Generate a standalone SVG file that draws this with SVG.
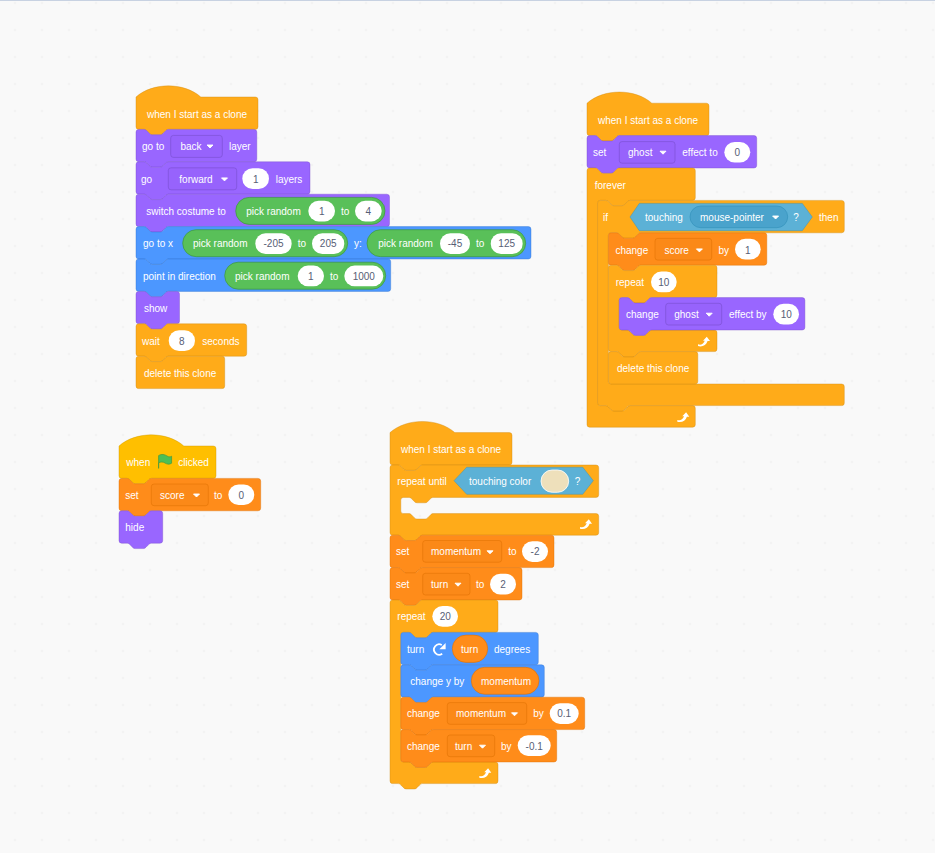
<svg xmlns="http://www.w3.org/2000/svg" xmlns:xlink="http://www.w3.org/1999/xlink" width="935" height="853" viewBox="0 0 935 853">
<style>
text{font-family:"Liberation Sans",Arial,sans-serif;font-size:10px}
.t{fill:#fff}
.n{fill:#575E75;text-anchor:middle}
.b{stroke-width:.8;stroke-linejoin:round;stroke-opacity:.5}
.ctl{fill:#FFAB19;stroke:#CF8B17}
.evt{fill:#FFBF00;stroke:#CC9900}
.lks{fill:#9966FF;stroke:#774DCB}
.mot{fill:#4C97FF;stroke:#3373CC}
.dat{fill:#FF8C1A;stroke:#DB6E00}
.rep{fill:#59C059;stroke:#389438;stroke-width:.8;stroke-opacity:.8}
.dr{fill:#FF8C1A;stroke:#DB6E00;stroke-width:.8;stroke-opacity:.7}
.sen{fill:#5CB1D6;stroke:#2E8EB8;stroke-width:.8;stroke-opacity:.5}
.men{fill:#4AA3CC;stroke:#2E8EB8;stroke-width:.8;stroke-opacity:.7}
.pill{fill:#fff}
.ddl{fill:#9763FC;stroke:#774DCB;stroke-width:.8;stroke-opacity:.7}
.ddd{fill:#FB8918;stroke:#DB6E00;stroke-width:.8;stroke-opacity:.6}
</style>
<defs>
<pattern id="grid" x="1.5" y="-10.5" width="27" height="27" patternUnits="userSpaceOnUse"><circle cx="13.5" cy="13.5" r=".8" fill="#e8e8e8"/></pattern>
<path id="ar" d="M-3 -1.4H3L0 1.6Z" fill="#fff" stroke="#fff" stroke-width=".9" stroke-linejoin="round"/>
<path id="loop" d="M-6 2.6C-3.5 3.4 -.8 3 .8 -1H-1L2.8-5L6-.6H3.6C2.4 3.6 -1.8 5.6 -6 4.4Z" fill="#fff"/>
</defs>
<rect width="935" height="853" fill="#F9F9F9"/>
<rect width="935" height="853" fill="url(#grid)"/>
<rect width="935" height="1" fill="#C8D2E2"/>

<g id="stack1">
<g id="s1-hat" transform="translate(136,97)"><path class="b ctl" d="M0 0c16.9-14.85 47.9-14.85 64.8 0H119.3a2.7 2.7 0 0 1 2.7 2.7V29.7a2.7 2.7 0 0 1-2.7 2.7H32.4c-1.35 0-2 .7-2.7 1.35l-2.7 2.7c-.7.7-1.35 1.35-2.7 1.35h-8.1c-1.35 0-2-.7-2.7-1.35l-2.7-2.7c-.7-.7-1.35-1.35-2.7-1.35H2.7a2.7 2.7 0 0 1-2.7-2.7z"/><text class="t" x="11" y="20.7">when I start as a clone</text></g>
<g id="s1-goto-layer" transform="translate(136,129.4)"><path class="b lks" d="M0 2.7A2.7 2.7 0 0 1 2.7 0H8.1c1.35 0 2 .7 2.7 1.35l2.7 2.7c.7.7 1.35 1.35 2.7 1.35h8.1c1.35 0 2-.7 2.7-1.35l2.7-2.7c.7-.7 1.35-1.35 2.7-1.35H118.1a2.7 2.7 0 0 1 2.7 2.7V29.7a2.7 2.7 0 0 1-2.7 2.7H32.4c-1.35 0-2 .7-2.7 1.35l-2.7 2.7c-.7.7-1.35 1.35-2.7 1.35h-8.1c-1.35 0-2-.7-2.7-1.35l-2.7-2.7c-.7-.7-1.35-1.35-2.7-1.35H2.7a2.7 2.7 0 0 1-2.7-2.7z"/><text class="t" x="6" y="20.2">go to</text><rect class="ddl" x="34.7" y="6" width="51.6" height="22" rx="2.7"/><text class="t" x="44.5" y="20.2">back</text><use xlink:href="#ar" href="#ar" x="74" y="17"/><text class="t" x="93" y="20.2">layer</text></g>
<g id="s1-go-layers" transform="translate(136,161.8)"><path class="b lks" d="M0 2.7A2.7 2.7 0 0 1 2.7 0H8.1c1.35 0 2 .7 2.7 1.35l2.7 2.7c.7.7 1.35 1.35 2.7 1.35h8.1c1.35 0 2-.7 2.7-1.35l2.7-2.7c.7-.7 1.35-1.35 2.7-1.35H171.3a2.7 2.7 0 0 1 2.7 2.7V29.7a2.7 2.7 0 0 1-2.7 2.7H32.4c-1.35 0-2 .7-2.7 1.35l-2.7 2.7c-.7.7-1.35 1.35-2.7 1.35h-8.1c-1.35 0-2-.7-2.7-1.35l-2.7-2.7c-.7-.7-1.35-1.35-2.7-1.35H2.7a2.7 2.7 0 0 1-2.7-2.7z"/><text class="t" x="5" y="21">go</text><rect class="ddl" x="32.3" y="6" width="68.4" height="22" rx="2.7"/><text class="t" x="43.3" y="21">forward</text><use xlink:href="#ar" href="#ar" x="88.5" y="17.5"/><rect class="pill" x="106.3" y="6.5" width="26.7" height="20.7" rx="10.35"/><text class="n" x="119.7" y="21">1</text><text class="t" x="139.7" y="21">layers</text></g>
<g id="s1-switch" transform="translate(136,194.2)"><path class="b lks" d="M0 2.7A2.7 2.7 0 0 1 2.7 0H8.1c1.35 0 2 .7 2.7 1.35l2.7 2.7c.7.7 1.35 1.35 2.7 1.35h8.1c1.35 0 2-.7 2.7-1.35l2.7-2.7c.7-.7 1.35-1.35 2.7-1.35H250.8a2.7 2.7 0 0 1 2.7 2.7V29.7a2.7 2.7 0 0 1-2.7 2.7H32.4c-1.35 0-2 .7-2.7 1.35l-2.7 2.7c-.7.7-1.35 1.35-2.7 1.35h-8.1c-1.35 0-2-.7-2.7-1.35l-2.7-2.7c-.7-.7-1.35-1.35-2.7-1.35H2.7a2.7 2.7 0 0 1-2.7-2.7z"/><text class="t" x="10.3" y="21">switch costume to</text><rect class="rep" x="99.7" y="3.2" width="149.3" height="27" rx="13.5"/><text class="t" x="110.3" y="21">pick random</text><rect class="pill" x="172.3" y="6.5" width="26.7" height="20.7" rx="10.35"/><text class="n" x="185.7" y="21">1</text><text class="t" x="205" y="21">to</text><rect class="pill" x="219" y="6.5" width="26.7" height="20.7" rx="10.35"/><text class="n" x="232.3" y="21">4</text></g>
<g id="s1-gotoxy" transform="translate(136,226.6)"><path class="b mot" d="M0 2.7A2.7 2.7 0 0 1 2.7 0H8.1c1.35 0 2 .7 2.7 1.35l2.7 2.7c.7.7 1.35 1.35 2.7 1.35h8.1c1.35 0 2-.7 2.7-1.35l2.7-2.7c.7-.7 1.35-1.35 2.7-1.35H392.3a2.7 2.7 0 0 1 2.7 2.7V29.7a2.7 2.7 0 0 1-2.7 2.7H32.4c-1.35 0-2 .7-2.7 1.35l-2.7 2.7c-.7.7-1.35 1.35-2.7 1.35h-8.1c-1.35 0-2-.7-2.7-1.35l-2.7-2.7c-.7-.7-1.35-1.35-2.7-1.35H2.7a2.7 2.7 0 0 1-2.7-2.7z"/><text class="t" x="7" y="20.2">go to x</text><rect class="rep" x="46.7" y="3.1" width="165" height="27" rx="13.5"/><text class="t" x="57" y="20.2">pick random</text><rect class="pill" x="119.3" y="6.7" width="36.4" height="20.7" rx="10.35"/><text class="n" x="137.5" y="20.2">-205</text><text class="t" x="161.7" y="20.2">to</text><rect class="pill" x="176" y="6.7" width="32.3" height="20.7" rx="10.35"/><text class="n" x="192.2" y="20.2">205</text><text class="t" x="218" y="20.2">y:</text><rect class="rep" x="231" y="3.1" width="158.7" height="27" rx="13.5"/><text class="t" x="242.3" y="20.2">pick random</text><rect class="pill" x="304" y="6.7" width="30" height="20.7" rx="10.35"/><text class="n" x="319" y="20.2">-45</text><text class="t" x="340" y="20.2">to</text><rect class="pill" x="354.7" y="6.7" width="32" height="20.7" rx="10.35"/><text class="n" x="370.7" y="20.2">125</text></g>
<g id="s1-point" transform="translate(136,259)"><path class="b mot" d="M0 2.7A2.7 2.7 0 0 1 2.7 0H8.1c1.35 0 2 .7 2.7 1.35l2.7 2.7c.7.7 1.35 1.35 2.7 1.35h8.1c1.35 0 2-.7 2.7-1.35l2.7-2.7c.7-.7 1.35-1.35 2.7-1.35H252a2.7 2.7 0 0 1 2.7 2.7V29.7a2.7 2.7 0 0 1-2.7 2.7H32.4c-1.35 0-2 .7-2.7 1.35l-2.7 2.7c-.7.7-1.35 1.35-2.7 1.35h-8.1c-1.35 0-2-.7-2.7-1.35l-2.7-2.7c-.7-.7-1.35-1.35-2.7-1.35H2.7a2.7 2.7 0 0 1-2.7-2.7z"/><text class="t" x="7" y="21">point in direction</text><rect class="rep" x="88.7" y="3.2" width="161" height="27" rx="13.5"/><text class="t" x="99" y="21">pick random</text><rect class="pill" x="161.7" y="6.6" width="26.3" height="20.7" rx="10.35"/><text class="n" x="174.8" y="21">1</text><text class="t" x="194" y="21">to</text><rect class="pill" x="208.3" y="6.6" width="39" height="20.7" rx="10.35"/><text class="n" x="227.8" y="21">1000</text></g>
<g id="s1-show" transform="translate(136,291.4)"><path class="b lks" d="M0 2.7A2.7 2.7 0 0 1 2.7 0H8.1c1.35 0 2 .7 2.7 1.35l2.7 2.7c.7.7 1.35 1.35 2.7 1.35h8.1c1.35 0 2-.7 2.7-1.35l2.7-2.7c.7-.7 1.35-1.35 2.7-1.35H40.8a2.7 2.7 0 0 1 2.7 2.7V29.7a2.7 2.7 0 0 1-2.7 2.7H32.4c-1.35 0-2 .7-2.7 1.35l-2.7 2.7c-.7.7-1.35 1.35-2.7 1.35h-8.1c-1.35 0-2-.7-2.7-1.35l-2.7-2.7c-.7-.7-1.35-1.35-2.7-1.35H2.7a2.7 2.7 0 0 1-2.7-2.7z"/><text class="t" x="8" y="20.2">show</text></g>
<g id="s1-wait" transform="translate(136,323.8)"><path class="b ctl" d="M0 2.7A2.7 2.7 0 0 1 2.7 0H8.1c1.35 0 2 .7 2.7 1.35l2.7 2.7c.7.7 1.35 1.35 2.7 1.35h8.1c1.35 0 2-.7 2.7-1.35l2.7-2.7c.7-.7 1.35-1.35 2.7-1.35H108a2.7 2.7 0 0 1 2.7 2.7V29.7a2.7 2.7 0 0 1-2.7 2.7H32.4c-1.35 0-2 .7-2.7 1.35l-2.7 2.7c-.7.7-1.35 1.35-2.7 1.35h-8.1c-1.35 0-2-.7-2.7-1.35l-2.7-2.7c-.7-.7-1.35-1.35-2.7-1.35H2.7a2.7 2.7 0 0 1-2.7-2.7z"/><text class="t" x="6" y="21">wait</text><rect class="pill" x="32.7" y="6.5" width="26.3" height="20.7" rx="10.35"/><text class="n" x="45.8" y="21">8</text><text class="t" x="66.3" y="21">seconds</text></g>
<g id="s1-delete" transform="translate(136,356.2)"><path class="b ctl" d="M0 2.7A2.7 2.7 0 0 1 2.7 0H8.1c1.35 0 2 .7 2.7 1.35l2.7 2.7c.7.7 1.35 1.35 2.7 1.35h8.1c1.35 0 2-.7 2.7-1.35l2.7-2.7c.7-.7 1.35-1.35 2.7-1.35H86a2.7 2.7 0 0 1 2.7 2.7V29.7a2.7 2.7 0 0 1-2.7 2.7H2.7a2.7 2.7 0 0 1-2.7-2.7z"/><text class="t" x="8" y="21">delete this clone</text></g>
</g>

<g id="stack2">
<g id="s2-hat" transform="translate(587,103.2)"><path class="b ctl" d="M0 0c16.9-14.85 47.9-14.85 64.8 0H119.3a2.7 2.7 0 0 1 2.7 2.7V29.7a2.7 2.7 0 0 1-2.7 2.7H32.4c-1.35 0-2 .7-2.7 1.35l-2.7 2.7c-.7.7-1.35 1.35-2.7 1.35h-8.1c-1.35 0-2-.7-2.7-1.35l-2.7-2.7c-.7-.7-1.35-1.35-2.7-1.35H2.7a2.7 2.7 0 0 1-2.7-2.7z"/><text class="t" x="11" y="20.7">when I start as a clone</text></g>
<g id="s2-set-ghost" transform="translate(587,135.6)"><path class="b lks" d="M0 2.7A2.7 2.7 0 0 1 2.7 0H8.1c1.35 0 2 .7 2.7 1.35l2.7 2.7c.7.7 1.35 1.35 2.7 1.35h8.1c1.35 0 2-.7 2.7-1.35l2.7-2.7c.7-.7 1.35-1.35 2.7-1.35H167a2.7 2.7 0 0 1 2.7 2.7V29.7a2.7 2.7 0 0 1-2.7 2.7H32.4c-1.35 0-2 .7-2.7 1.35l-2.7 2.7c-.7.7-1.35 1.35-2.7 1.35h-8.1c-1.35 0-2-.7-2.7-1.35l-2.7-2.7c-.7-.7-1.35-1.35-2.7-1.35H2.7a2.7 2.7 0 0 1-2.7-2.7z"/><text class="t" x="6" y="20.2">set</text><rect class="ddl" x="32.3" y="6" width="55.7" height="21.6" rx="2.7"/><text class="t" x="41" y="20.2">ghost</text><use xlink:href="#ar" href="#ar" x="76" y="17"/><text class="t" x="95.3" y="20.2">effect to</text><rect class="pill" x="137.3" y="6.3" width="26" height="20.7" rx="10.35"/><text class="n" x="150.3" y="20.2">0</text></g>
<g id="s2-forever" transform="translate(587,168)"><path class="b ctl" d="M0 2.7A2.7 2.7 0 0 1 2.7 0H8.1c1.35 0 2 .7 2.7 1.35l2.7 2.7c.7.7 1.35 1.35 2.7 1.35h8.1c1.35 0 2-.7 2.7-1.35l2.7-2.7c.7-.7 1.35-1.35 2.7-1.35H105.6a2.7 2.7 0 0 1 2.7 2.7V29.7a2.7 2.7 0 0 1-2.7 2.7H43.2c-1.35 0-2 .7-2.7 1.35l-2.7 2.7c-.7.7-1.35 1.35-2.7 1.35h-8.1c-1.35 0-2-.7-2.7-1.35l-2.7-2.7c-.7-.7-1.35-1.35-2.7-1.35H13.5a2.7 2.7 0 0 0-2.7 2.7V234.9a2.7 2.7 0 0 0 2.7 2.7H18.9c1.35 0 2 .7 2.7 1.35l2.7 2.7c.7.7 1.35 1.35 2.7 1.35h8.1c1.35 0 2-.7 2.7-1.35l2.7-2.7c.7-.7 1.35-1.35 2.7-1.35H105.6a2.7 2.7 0 0 1 2.7 2.7V256.5a2.7 2.7 0 0 1-2.7 2.7H2.7a2.7 2.7 0 0 1-2.7-2.7z"/><text class="t" x="7.7" y="21">forever</text><use xlink:href="#loop" href="#loop" x="96.3" y="249.3"/></g>
<g id="s2-if" transform="translate(597.6,200.4)"><path class="b ctl" d="M0 2.7A2.7 2.7 0 0 1 2.7 0H8.1c1.35 0 2 .7 2.7 1.35l2.7 2.7c.7.7 1.35 1.35 2.7 1.35h8.1c1.35 0 2-.7 2.7-1.35l2.7-2.7c.7-.7 1.35-1.35 2.7-1.35H244a2.7 2.7 0 0 1 2.7 2.7V29.7a2.7 2.7 0 0 1-2.7 2.7H43.2c-1.35 0-2 .7-2.7 1.35l-2.7 2.7c-.7.7-1.35 1.35-2.7 1.35h-8.1c-1.35 0-2-.7-2.7-1.35l-2.7-2.7c-.7-.7-1.35-1.35-2.7-1.35H13.5a2.7 2.7 0 0 0-2.7 2.7V180.9a2.7 2.7 0 0 0 2.7 2.7H244a2.7 2.7 0 0 1 2.7 2.7V202.5a2.7 2.7 0 0 1-2.7 2.7H32.4c-1.35 0-2 .7-2.7 1.35l-2.7 2.7c-.7.7-1.35 1.35-2.7 1.35h-8.1c-1.35 0-2-.7-2.7-1.35l-2.7-2.7c-.7-.7-1.35-1.35-2.7-1.35H2.7a2.7 2.7 0 0 1-2.7-2.7z"/><text class="t" x="5.4" y="20.2">if</text><path class="sen" d="M32.4 16.6L41.7 3H204.7L214.7 16.6L204.7 30.3H41.7Z"/><text class="t" x="47.4" y="20.2">touching</text><rect class="men" x="92.4" y="5.6" width="97.7" height="21.7" rx="10.85"/><text class="t" x="102.4" y="20.2">mouse-pointer</text><use xlink:href="#ar" href="#ar" x="178" y="17"/><text class="t" x="195.7" y="20.2">?</text><text class="t" x="221.4" y="20.2">then</text></g>
<g id="s2-change-score" transform="translate(608.4,232.8)"><path class="b dat" d="M0 2.7A2.7 2.7 0 0 1 2.7 0H8.1c1.35 0 2 .7 2.7 1.35l2.7 2.7c.7.7 1.35 1.35 2.7 1.35h8.1c1.35 0 2-.7 2.7-1.35l2.7-2.7c.7-.7 1.35-1.35 2.7-1.35H155.7a2.7 2.7 0 0 1 2.7 2.7V29.7a2.7 2.7 0 0 1-2.7 2.7H32.4c-1.35 0-2 .7-2.7 1.35l-2.7 2.7c-.7.7-1.35 1.35-2.7 1.35h-8.1c-1.35 0-2-.7-2.7-1.35l-2.7-2.7c-.7-.7-1.35-1.35-2.7-1.35H2.7a2.7 2.7 0 0 1-2.7-2.7z"/><text class="t" x="7" y="21">change</text><rect class="ddd" x="46.6" y="5.6" width="56.7" height="21.7" rx="2.7"/><text class="t" x="56" y="21">score</text><use xlink:href="#ar" href="#ar" x="91" y="17.5"/><text class="t" x="110" y="21">by</text><rect class="pill" x="126.6" y="6" width="25.7" height="20.7" rx="10.35"/><text class="n" x="139.4" y="21">1</text></g>
<g id="s2-repeat" transform="translate(608.4,265.2)"><path class="b ctl" d="M0 2.7A2.7 2.7 0 0 1 2.7 0H8.1c1.35 0 2 .7 2.7 1.35l2.7 2.7c.7.7 1.35 1.35 2.7 1.35h8.1c1.35 0 2-.7 2.7-1.35l2.7-2.7c.7-.7 1.35-1.35 2.7-1.35H105.9a2.7 2.7 0 0 1 2.7 2.7V29.7a2.7 2.7 0 0 1-2.7 2.7H43.2c-1.35 0-2 .7-2.7 1.35l-2.7 2.7c-.7.7-1.35 1.35-2.7 1.35h-8.1c-1.35 0-2-.7-2.7-1.35l-2.7-2.7c-.7-.7-1.35-1.35-2.7-1.35H13.5a2.7 2.7 0 0 0-2.7 2.7V62.1a2.7 2.7 0 0 0 2.7 2.7H18.9c1.35 0 2 .7 2.7 1.35l2.7 2.7c.7.7 1.35 1.35 2.7 1.35h8.1c1.35 0 2-.7 2.7-1.35l2.7-2.7c.7-.7 1.35-1.35 2.7-1.35H105.9a2.7 2.7 0 0 1 2.7 2.7V83.7a2.7 2.7 0 0 1-2.7 2.7H32.4c-1.35 0-2 .7-2.7 1.35l-2.7 2.7c-.7.7-1.35 1.35-2.7 1.35h-8.1c-1.35 0-2-.7-2.7-1.35l-2.7-2.7c-.7-.7-1.35-1.35-2.7-1.35H2.7a2.7 2.7 0 0 1-2.7-2.7z"/><text class="t" x="7.3" y="21">repeat</text><rect class="pill" x="42.6" y="6.4" width="25.7" height="20.7" rx="10.35"/><text class="n" x="55.4" y="21">10</text><use xlink:href="#loop" href="#loop" x="95.6" y="76.5"/></g>
<g id="s2-change-ghost" transform="translate(619.2,297.6)"><path class="b lks" d="M0 2.7A2.7 2.7 0 0 1 2.7 0H8.1c1.35 0 2 .7 2.7 1.35l2.7 2.7c.7.7 1.35 1.35 2.7 1.35h8.1c1.35 0 2-.7 2.7-1.35l2.7-2.7c.7-.7 1.35-1.35 2.7-1.35H183a2.7 2.7 0 0 1 2.7 2.7V29.7a2.7 2.7 0 0 1-2.7 2.7H32.4c-1.35 0-2 .7-2.7 1.35l-2.7 2.7c-.7.7-1.35 1.35-2.7 1.35h-8.1c-1.35 0-2-.7-2.7-1.35l-2.7-2.7c-.7-.7-1.35-1.35-2.7-1.35H2.7a2.7 2.7 0 0 1-2.7-2.7z"/><text class="t" x="6.8" y="20.2">change</text><rect class="ddl" x="46.5" y="5.7" width="56" height="21.7" rx="2.7"/><text class="t" x="55" y="20.2">ghost</text><use xlink:href="#ar" href="#ar" x="90" y="17"/><text class="t" x="109.8" y="20.2">effect by</text><rect class="pill" x="154.1" y="6.2" width="25.7" height="20.7" rx="10.35"/><text class="n" x="167" y="20.2">10</text></g>
<g id="s2-delete" transform="translate(608.4,351.6)"><path class="b ctl" d="M0 2.7A2.7 2.7 0 0 1 2.7 0H8.1c1.35 0 2 .7 2.7 1.35l2.7 2.7c.7.7 1.35 1.35 2.7 1.35h8.1c1.35 0 2-.7 2.7-1.35l2.7-2.7c.7-.7 1.35-1.35 2.7-1.35H86.7a2.7 2.7 0 0 1 2.7 2.7V29.7a2.7 2.7 0 0 1-2.7 2.7H2.7a2.7 2.7 0 0 1-2.7-2.7z"/><text class="t" x="8.6" y="20.2">delete this clone</text></g>
</g>

<g id="stack3">
<g id="s3-flag-hat" transform="translate(119,446)"><path class="b evt" d="M0 0c16.9-14.85 47.9-14.85 64.8 0H94.3a2.7 2.7 0 0 1 2.7 2.7V29.7a2.7 2.7 0 0 1-2.7 2.7H32.4c-1.35 0-2 .7-2.7 1.35l-2.7 2.7c-.7.7-1.35 1.35-2.7 1.35h-8.1c-1.35 0-2-.7-2.7-1.35l-2.7-2.7c-.7-.7-1.35-1.35-2.7-1.35H2.7a2.7 2.7 0 0 1-2.7-2.7z"/><text class="t" x="7.3" y="20.2">when</text><path d="M39.6 22.4V9.6C42.5 7.6 46 8.6 48 10C50 11.2 51.6 11 52.6 10.2V17.2C50.6 18.6 48 18.4 46 17C44.2 15.8 41.8 15.6 39.6 16.8Z" fill="#4CBF56" stroke="#45993D" stroke-width=".7" stroke-linejoin="round"/><text class="t" x="59.3" y="20.2">clicked</text></g>
<g id="s3-set-score" transform="translate(119,478.4)"><path class="b dat" d="M0 2.7A2.7 2.7 0 0 1 2.7 0H8.1c1.35 0 2 .7 2.7 1.35l2.7 2.7c.7.7 1.35 1.35 2.7 1.35h8.1c1.35 0 2-.7 2.7-1.35l2.7-2.7c.7-.7 1.35-1.35 2.7-1.35H139a2.7 2.7 0 0 1 2.7 2.7V29.7a2.7 2.7 0 0 1-2.7 2.7H32.4c-1.35 0-2 .7-2.7 1.35l-2.7 2.7c-.7.7-1.35 1.35-2.7 1.35h-8.1c-1.35 0-2-.7-2.7-1.35l-2.7-2.7c-.7-.7-1.35-1.35-2.7-1.35H2.7a2.7 2.7 0 0 1-2.7-2.7z"/><text class="t" x="6.3" y="20.2">set</text><rect class="ddd" x="32.3" y="5.6" width="57" height="21.7" rx="2.7"/><text class="t" x="41" y="20.2">score</text><use xlink:href="#ar" href="#ar" x="77.5" y="17"/><text class="t" x="95" y="20.2">to</text><rect class="pill" x="109.3" y="6" width="26" height="20.7" rx="10.35"/><text class="n" x="122.3" y="20.2">0</text></g>
<g id="s3-hide" transform="translate(119,510.8)"><path class="b lks" d="M0 2.7A2.7 2.7 0 0 1 2.7 0H8.1c1.35 0 2 .7 2.7 1.35l2.7 2.7c.7.7 1.35 1.35 2.7 1.35h8.1c1.35 0 2-.7 2.7-1.35l2.7-2.7c.7-.7 1.35-1.35 2.7-1.35H41a2.7 2.7 0 0 1 2.7 2.7V29.7a2.7 2.7 0 0 1-2.7 2.7H32.4c-1.35 0-2 .7-2.7 1.35l-2.7 2.7c-.7.7-1.35 1.35-2.7 1.35h-8.1c-1.35 0-2-.7-2.7-1.35l-2.7-2.7c-.7-.7-1.35-1.35-2.7-1.35H2.7a2.7 2.7 0 0 1-2.7-2.7z"/><text class="t" x="6.3" y="20.2">hide</text></g>
</g>

<g id="stack4">
<g id="s4-hat" transform="translate(390,432.6)"><path class="b ctl" d="M0 0c16.9-14.85 47.9-14.85 64.8 0H119.3a2.7 2.7 0 0 1 2.7 2.7V29.7a2.7 2.7 0 0 1-2.7 2.7H32.4c-1.35 0-2 .7-2.7 1.35l-2.7 2.7c-.7.7-1.35 1.35-2.7 1.35h-8.1c-1.35 0-2-.7-2.7-1.35l-2.7-2.7c-.7-.7-1.35-1.35-2.7-1.35H2.7a2.7 2.7 0 0 1-2.7-2.7z"/><text class="t" x="11" y="20.2">when I start as a clone</text></g>
<g id="s4-repeat-until" transform="translate(390,465)"><path class="b ctl" d="M0 2.7A2.7 2.7 0 0 1 2.7 0H8.1c1.35 0 2 .7 2.7 1.35l2.7 2.7c.7.7 1.35 1.35 2.7 1.35h8.1c1.35 0 2-.7 2.7-1.35l2.7-2.7c.7-.7 1.35-1.35 2.7-1.35H206a2.7 2.7 0 0 1 2.7 2.7V29.7a2.7 2.7 0 0 1-2.7 2.7H43.2c-1.35 0-2 .7-2.7 1.35l-2.7 2.7c-.7.7-1.35 1.35-2.7 1.35h-8.1c-1.35 0-2-.7-2.7-1.35l-2.7-2.7c-.7-.7-1.35-1.35-2.7-1.35H13.5a2.7 2.7 0 0 0-2.7 2.7V45.9a2.7 2.7 0 0 0 2.7 2.7H18.9c1.35 0 2 .7 2.7 1.35l2.7 2.7c.7.7 1.35 1.35 2.7 1.35h8.1c1.35 0 2-.7 2.7-1.35l2.7-2.7c.7-.7 1.35-1.35 2.7-1.35H206a2.7 2.7 0 0 1 2.7 2.7V67.5a2.7 2.7 0 0 1-2.7 2.7H32.4c-1.35 0-2 .7-2.7 1.35l-2.7 2.7c-.7.7-1.35 1.35-2.7 1.35h-8.1c-1.35 0-2-.7-2.7-1.35l-2.7-2.7c-.7-.7-1.35-1.35-2.7-1.35H2.7a2.7 2.7 0 0 1-2.7-2.7z"/><text class="t" x="7.3" y="20.2">repeat until</text><path class="sen" d="M64 15.7L76.7 2.2H192.7L203.3 15.7L192.7 29.3H76.7Z"/><text class="t" x="79" y="20.2">touching color</text><rect x="151" y="5" width="27.7" height="22.3" rx="11.15" fill="#EEE0BB" stroke="#fff" stroke-width=".8"/><text class="t" x="184.7" y="20.2">?</text><use xlink:href="#loop" href="#loop" x="196" y="59.3"/></g>
<g id="s4-set-momentum" transform="translate(390,535.2)"><path class="b dat" d="M0 2.7A2.7 2.7 0 0 1 2.7 0H8.1c1.35 0 2 .7 2.7 1.35l2.7 2.7c.7.7 1.35 1.35 2.7 1.35h8.1c1.35 0 2-.7 2.7-1.35l2.7-2.7c.7-.7 1.35-1.35 2.7-1.35H161.3a2.7 2.7 0 0 1 2.7 2.7V29.7a2.7 2.7 0 0 1-2.7 2.7H32.4c-1.35 0-2 .7-2.7 1.35l-2.7 2.7c-.7.7-1.35 1.35-2.7 1.35h-8.1c-1.35 0-2-.7-2.7-1.35l-2.7-2.7c-.7-.7-1.35-1.35-2.7-1.35H2.7a2.7 2.7 0 0 1-2.7-2.7z"/><text class="t" x="6" y="20.2">set</text><rect class="ddd" x="32.7" y="5.3" width="79" height="21.7" rx="2.7"/><text class="t" x="41" y="20.2">momentum</text><use xlink:href="#ar" href="#ar" x="100" y="17"/><text class="t" x="118.3" y="20.2">to</text><rect class="pill" x="132" y="6" width="26" height="20.7" rx="10.35"/><text class="n" x="145" y="20.2">-2</text></g>
<g id="s4-set-turn" transform="translate(390,567.6)"><path class="b dat" d="M0 2.7A2.7 2.7 0 0 1 2.7 0H8.1c1.35 0 2 .7 2.7 1.35l2.7 2.7c.7.7 1.35 1.35 2.7 1.35h8.1c1.35 0 2-.7 2.7-1.35l2.7-2.7c.7-.7 1.35-1.35 2.7-1.35H129.3a2.7 2.7 0 0 1 2.7 2.7V29.7a2.7 2.7 0 0 1-2.7 2.7H32.4c-1.35 0-2 .7-2.7 1.35l-2.7 2.7c-.7.7-1.35 1.35-2.7 1.35h-8.1c-1.35 0-2-.7-2.7-1.35l-2.7-2.7c-.7-.7-1.35-1.35-2.7-1.35H2.7a2.7 2.7 0 0 1-2.7-2.7z"/><text class="t" x="6" y="20.2">set</text><rect class="ddd" x="32.7" y="5.7" width="47.3" height="21.7" rx="2.7"/><text class="t" x="41" y="20.2">turn</text><use xlink:href="#ar" href="#ar" x="68" y="17"/><text class="t" x="86" y="20.2">to</text><rect class="pill" x="100" y="6.2" width="26" height="20.7" rx="10.35"/><text class="n" x="113" y="20.2">2</text></g>
<g id="s4-repeat" transform="translate(390,600)"><path class="b ctl" d="M0 2.7A2.7 2.7 0 0 1 2.7 0H8.1c1.35 0 2 .7 2.7 1.35l2.7 2.7c.7.7 1.35 1.35 2.7 1.35h8.1c1.35 0 2-.7 2.7-1.35l2.7-2.7c.7-.7 1.35-1.35 2.7-1.35H105.3a2.7 2.7 0 0 1 2.7 2.7V29.7a2.7 2.7 0 0 1-2.7 2.7H43.2c-1.35 0-2 .7-2.7 1.35l-2.7 2.7c-.7.7-1.35 1.35-2.7 1.35h-8.1c-1.35 0-2-.7-2.7-1.35l-2.7-2.7c-.7-.7-1.35-1.35-2.7-1.35H13.5a2.7 2.7 0 0 0-2.7 2.7V159.3a2.7 2.7 0 0 0 2.7 2.7H18.9c1.35 0 2 .7 2.7 1.35l2.7 2.7c.7.7 1.35 1.35 2.7 1.35h8.1c1.35 0 2-.7 2.7-1.35l2.7-2.7c.7-.7 1.35-1.35 2.7-1.35H105.3a2.7 2.7 0 0 1 2.7 2.7V180.9a2.7 2.7 0 0 1-2.7 2.7H32.4c-1.35 0-2 .7-2.7 1.35l-2.7 2.7c-.7.7-1.35 1.35-2.7 1.35h-8.1c-1.35 0-2-.7-2.7-1.35l-2.7-2.7c-.7-.7-1.35-1.35-2.7-1.35H2.7a2.7 2.7 0 0 1-2.7-2.7z"/><text class="t" x="7.3" y="20.2">repeat</text><rect class="pill" x="42.3" y="6" width="25.7" height="20.7" rx="10.35"/><text class="n" x="55.2" y="20.2">20</text><use xlink:href="#loop" href="#loop" x="95.3" y="173.3"/></g>
<g id="s4-turn" transform="translate(400.8,632.4)"><path class="b mot" d="M0 2.7A2.7 2.7 0 0 1 2.7 0H8.1c1.35 0 2 .7 2.7 1.35l2.7 2.7c.7.7 1.35 1.35 2.7 1.35h8.1c1.35 0 2-.7 2.7-1.35l2.7-2.7c.7-.7 1.35-1.35 2.7-1.35H134.8a2.7 2.7 0 0 1 2.7 2.7V29.7a2.7 2.7 0 0 1-2.7 2.7H32.4c-1.35 0-2 .7-2.7 1.35l-2.7 2.7c-.7.7-1.35 1.35-2.7 1.35h-8.1c-1.35 0-2-.7-2.7-1.35l-2.7-2.7c-.7-.7-1.35-1.35-2.7-1.35H2.7a2.7 2.7 0 0 1-2.7-2.7z"/><text class="t" x="6.2" y="20.2">turn</text><path d="M41.4 21.4A5.2 5.2 0 1 1 41 12.6" fill="none" stroke="#fff" stroke-width="1.8"/><path d="M44.8 10.6V16.8H38.6Z" fill="#fff"/><rect class="dr" x="51.5" y="2.7" width="35.4" height="27.3" rx="13.65"/><text class="t" x="60.2" y="20.2">turn</text><text class="t" x="93.2" y="20.2">degrees</text></g>
<g id="s4-change-y" transform="translate(400.8,664.8)"><path class="b mot" d="M0 2.7A2.7 2.7 0 0 1 2.7 0H8.1c1.35 0 2 .7 2.7 1.35l2.7 2.7c.7.7 1.35 1.35 2.7 1.35h8.1c1.35 0 2-.7 2.7-1.35l2.7-2.7c.7-.7 1.35-1.35 2.7-1.35H140.8a2.7 2.7 0 0 1 2.7 2.7V29.7a2.7 2.7 0 0 1-2.7 2.7H32.4c-1.35 0-2 .7-2.7 1.35l-2.7 2.7c-.7.7-1.35 1.35-2.7 1.35h-8.1c-1.35 0-2-.7-2.7-1.35l-2.7-2.7c-.7-.7-1.35-1.35-2.7-1.35H2.7a2.7 2.7 0 0 1-2.7-2.7z"/><text class="t" x="9.5" y="20.2">change y by</text><rect class="dr" x="70.5" y="2.5" width="67.7" height="27" rx="13.5"/><text class="t" x="80.2" y="20.2">momentum</text></g>
<g id="s4-change-momentum" transform="translate(400.8,697.2)"><path class="b dat" d="M0 2.7A2.7 2.7 0 0 1 2.7 0H8.1c1.35 0 2 .7 2.7 1.35l2.7 2.7c.7.7 1.35 1.35 2.7 1.35h8.1c1.35 0 2-.7 2.7-1.35l2.7-2.7c.7-.7 1.35-1.35 2.7-1.35H181.2a2.7 2.7 0 0 1 2.7 2.7V29.7a2.7 2.7 0 0 1-2.7 2.7H32.4c-1.35 0-2 .7-2.7 1.35l-2.7 2.7c-.7.7-1.35 1.35-2.7 1.35h-8.1c-1.35 0-2-.7-2.7-1.35l-2.7-2.7c-.7-.7-1.35-1.35-2.7-1.35H2.7a2.7 2.7 0 0 1-2.7-2.7z"/><text class="t" x="6.2" y="20.2">change</text><rect class="ddd" x="46.5" y="5.4" width="79.4" height="21.7" rx="2.7"/><text class="t" x="55.2" y="20.2">momentum</text><use xlink:href="#ar" href="#ar" x="113.7" y="17"/><text class="t" x="132.5" y="20.2">by</text><rect class="pill" x="148.9" y="6" width="29" height="20.7" rx="10.35"/><text class="n" x="163.4" y="20.2">0.1</text></g>
<g id="s4-change-turn" transform="translate(400.8,729.6)"><path class="b dat" d="M0 2.7A2.7 2.7 0 0 1 2.7 0H8.1c1.35 0 2 .7 2.7 1.35l2.7 2.7c.7.7 1.35 1.35 2.7 1.35h8.1c1.35 0 2-.7 2.7-1.35l2.7-2.7c.7-.7 1.35-1.35 2.7-1.35H153.2a2.7 2.7 0 0 1 2.7 2.7V29.7a2.7 2.7 0 0 1-2.7 2.7H32.4c-1.35 0-2 .7-2.7 1.35l-2.7 2.7c-.7.7-1.35 1.35-2.7 1.35h-8.1c-1.35 0-2-.7-2.7-1.35l-2.7-2.7c-.7-.7-1.35-1.35-2.7-1.35H2.7a2.7 2.7 0 0 1-2.7-2.7z"/><text class="t" x="6.2" y="20.2">change</text><rect class="ddd" x="46.5" y="5.4" width="47.4" height="21.7" rx="2.7"/><text class="t" x="54.2" y="20.2">turn</text><use xlink:href="#ar" href="#ar" x="81.7" y="17"/><text class="t" x="100.2" y="20.2">by</text><rect class="pill" x="116.9" y="5.6" width="33" height="20.7" rx="10.35"/><text class="n" x="133.4" y="20.2">-0.1</text></g>
</g>
</svg>
